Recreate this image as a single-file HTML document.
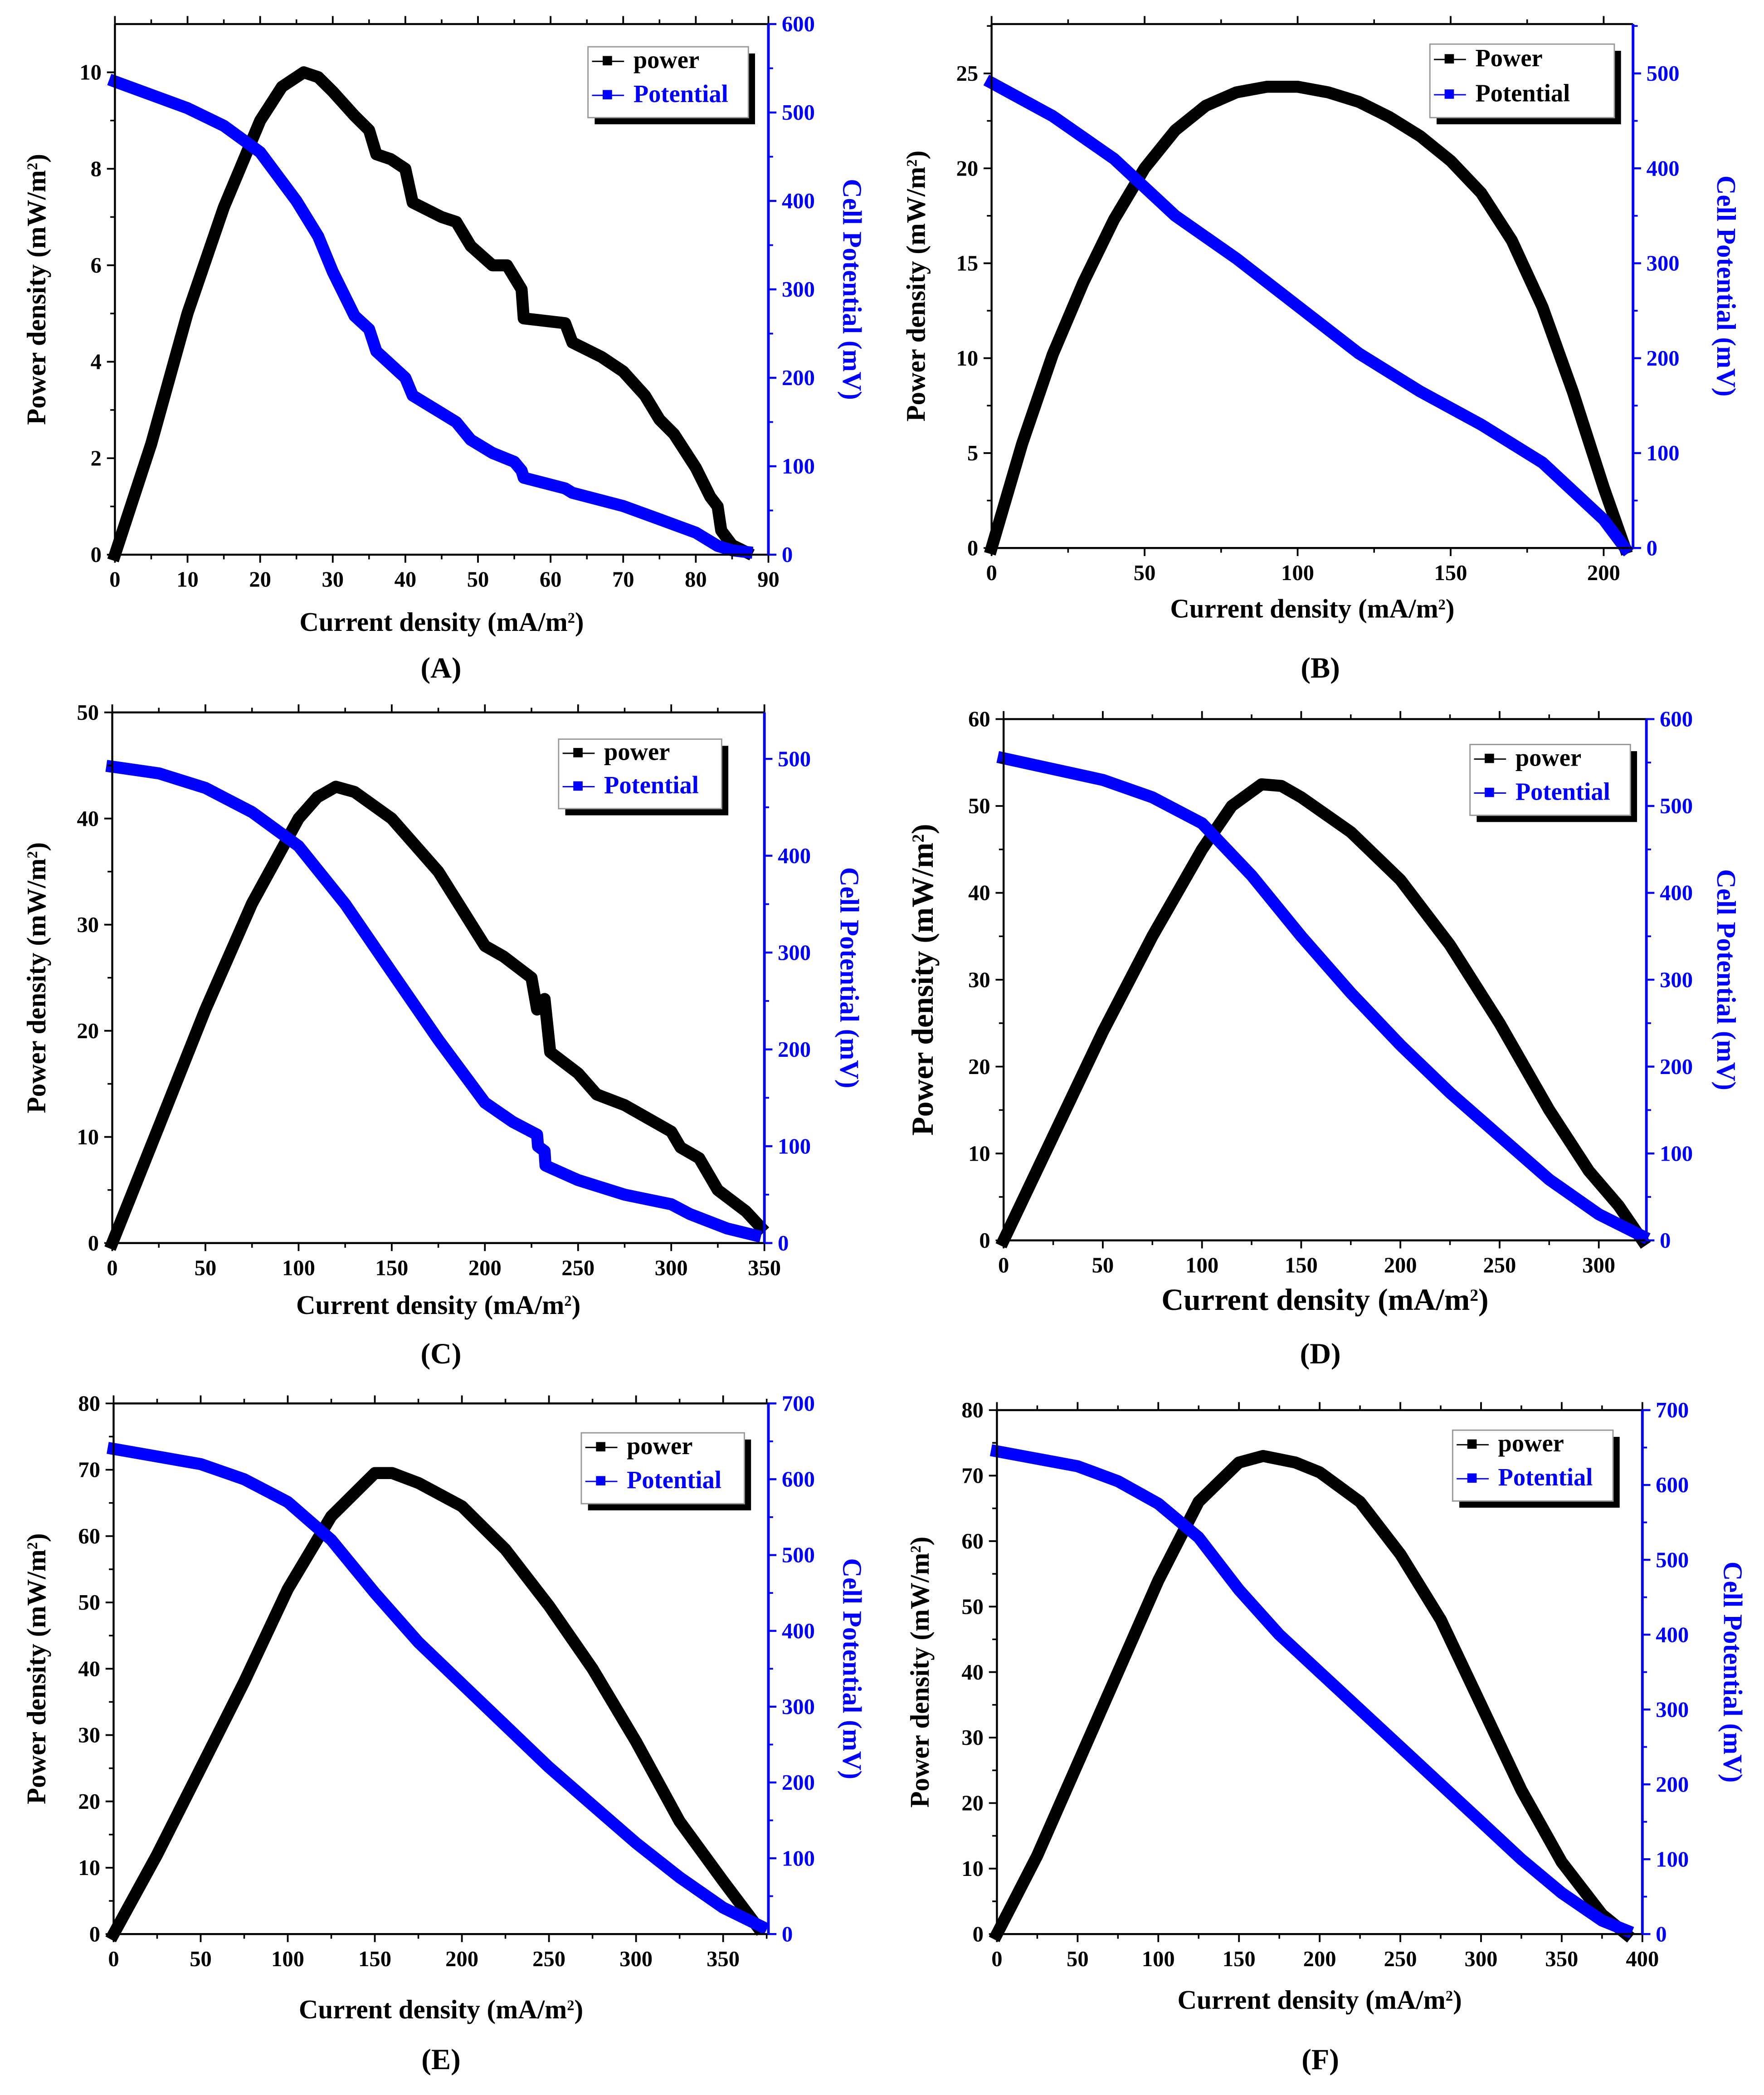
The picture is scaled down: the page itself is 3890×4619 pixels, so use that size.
<!DOCTYPE html>
<html><head><meta charset="utf-8"><style>
html,body{margin:0;padding:0;background:#fff;}
svg{display:block;}
text{font-family:"Liberation Serif",serif;font-weight:bold;}
</style></head><body>
<svg id="fig" width="3890" height="4619" viewBox="0 0 1320 1567.4" preserveAspectRatio="none" xmlns="http://www.w3.org/2000/svg"></svg>
<script>
// ---- data (current density mA/m2, power mW/m2, potential mV) ----
const aX = [0,5,10,15,20,23,26,28,30,33,35,36,38,40,41,45,47,49,52,54,56,56.3,62,63,67,70,73,75,77,80,82,83,83.5,85,87];
const aPow = [0,2.3,5,7.2,9,9.7,10,9.9,9.6,9.1,8.8,8.3,8.2,8,7.3,7.0,6.9,6.4,6.0,6.0,5.5,4.9,4.8,4.4,4.1,3.8,3.3,2.8,2.5,1.8,1.2,1.0,0.5,0.2,0.05];
const aVX = [0,10,15,20,25,28,30,33,35,36,40,41,45,47,49,52,55,56,56.3,62,63,70,75,80,83,85,87];
const aPot = [535,505,485,455,400,360,320,270,255,230,200,180,160,150,130,115,105,95,87,75,70,55,40,25,10,5,3];

const bX = [0,10,20,30,40,50,60,70,80,90,100,110,120,130,140,150,160,170,180,190,200,207];
const bPow = [0,5.5,10.2,14,17.3,20,22,23.3,24,24.3,24.3,24,23.5,22.7,21.7,20.4,18.7,16.2,12.7,8.2,3.2,0];
const bVX = [0,20,40,50,60,80,100,120,140,160,180,200,207];
const bPot = [490,455,410,380,350,305,255,205,165,130,90,30,0];

const cX = [0,25,50,75,100,110,120,130,150,175,200,210,225,228,232,235,250,260,275,300,305,315,325,340,348];
const cPow = [0,11,22,32,40,42,43,42.5,40,35,28,27,25,22,23,18,16,14,13,10.5,9,8,5,3,1.5];
const cVX = [0,25,50,75,100,125,150,175,200,215,228,228.5,232,232.5,250,275,300,310,330,345];
const cPot = [492,485,470,445,410,350,280,210,145,125,112,100,95,80,65,50,40,30,15,8];

const dX = [0,25,50,75,100,115,130,140,150,175,200,225,250,275,295,310,322];
const dPow = [0,12,24,35,45,50,52.5,52.3,51,47,41.5,34,25,15,8,4,0];
const dVX = [0,50,75,100,125,150,175,200,225,250,275,300,322];
const dPot = [555,530,510,480,420,350,285,225,170,120,70,30,5];

const eX = [0,25,50,75,100,125,150,160,175,200,225,250,275,300,325,350,370];
const ePow = [0,12,25,38,52,63,69.5,69.5,68,64.5,58,49.5,40,29,17,8,1];
const eVX = [0,50,75,100,125,150,175,200,225,250,275,300,325,350,372];
const ePot = [640,620,600,570,520,450,385,330,275,220,170,120,75,35,10];

const fX = [0,25,50,75,100,125,150,165,185,200,225,250,275,300,325,350,375,390];
const fPow = [0,12,26,40,54,66,72,73,72,70.5,66,58,48,35,22,11,3,0];
const fVX = [0,50,75,100,125,150,175,200,225,250,275,300,325,350,375,390];
const fPot = [645,625,605,575,530,460,400,350,300,250,200,150,100,55,18,5];

const aXTicks=[0,10,20,30,40,50,60,70,80,90], aLTicks=[0,2,4,6,8,10], aRTicks=[0,100,200,300,400,500,600];
const bXTicks=[0,50,100,150,200], bLTicks=[0,5,10,15,20,25], bRTicks=[0,100,200,300,400,500];
const cXTicks=[0,50,100,150,200,250,300,350], cLTicks=[0,10,20,30,40,50], cRTicks=[0,100,200,300,400,500];
const dXTicks=[0,50,100,150,200,250,300], dLTicks=[0,10,20,30,40,50,60], dRTicks=[0,100,200,300,400,500,600];
const eXTicks=[0,50,100,150,200,250,300,350], eLTicks=[0,10,20,30,40,50,60,70,80], eRTicks=[0,100,200,300,400,500,600,700];
const fXTicks=[0,50,100,150,200,250,300,350,400], fLTicks=[0,10,20,30,40,50,60,70,80], fRTicks=[0,100,200,300,400,500,600,700];

const NS="http://www.w3.org/2000/svg";
const svg=document.getElementById('fig');
function mk(tag,attrs,parent){const e=document.createElementNS(NS,tag);for(const k in attrs)e.setAttribute(k,attrs[k]);(parent||svg).appendChild(e);return e;}

const panels=[
 {id:'a',label:'(A)',x0:86,x1:575,y0:18,y1:415,xmax:90,lmax:11,rmax:600,xs:aX,pw:aPow,vx:aVX,pt:aPot,xt:aXTicks,lt:aLTicks,rt:aRTicks,leg:[440,35,120,53],p1:'power',p2:'Potential',xtY:472,lbX:330,lbY:507,ltX:27,rtX:638,fs:16.5,tf:20},
 {id:'b',label:'(B)',x0:742,x1:1222,y0:18,y1:410,xmax:209.6,lmax:27.6,rmax:552,xs:bX,pw:bPow,vx:bVX,pt:bPot,xt:bXTicks,lt:bLTicks,rt:bRTicks,leg:[1070,33,138,55],p1:'Power',p2:'Potential',xtY:462,lbX:988,lbY:507,ltX:685,rtX:1292,fs:16.5,tf:20,blackLeg:true},
 {id:'c',label:'(C)',x0:84,x1:572,y0:533,y1:930,xmax:350,lmax:50,rmax:548,xs:cX,pw:cPow,vx:cVX,pt:cPot,xt:cXTicks,lt:cLTicks,rt:cRTicks,leg:[418,553,122,52],p1:'power',p2:'Potential',xtY:983,lbX:330,lbY:1020,ltX:27,rtX:636,fs:16.5,tf:20},
 {id:'d',label:'(D)',x0:751,x1:1232,y0:538,y1:928,xmax:324,lmax:60,rmax:600,xs:dX,pw:dPow,vx:dVX,pt:dPot,xt:dXTicks,lt:dLTicks,rt:dRTicks,leg:[1100,557,120,53],p1:'power',p2:'Potential',xtY:980,lbX:988,lbY:1020,ltX:690,rtX:1292,fs:16.5,tf:23},
 {id:'e',label:'(E)',x0:85,x1:575,y0:1050,y1:1447,xmax:376,lmax:80,rmax:700,xs:eX,pw:ePow,vx:eVX,pt:ePot,xt:eXTicks,lt:eLTicks,rt:eRTicks,leg:[435,1072,122,53],p1:'power',p2:'Potential',xtY:1510,lbX:330,lbY:1548,ltX:27,rtX:638,fs:16.5,tf:20},
 {id:'f',label:'(F)',x0:746,x1:1229,y0:1055,y1:1447,xmax:400,lmax:80,rmax:700,xs:fX,pw:fPow,vx:fVX,pt:fPot,xt:fXTicks,lt:fLTicks,rt:fRTicks,leg:[1087,1070,120,53],p1:'power',p2:'Potential',xtY:1503,lbX:988,lbY:1548,ltX:688,rtX:1297,fs:16.5,tf:20},
];

panels.forEach(P=>{
 const g=mk('g',{});
 
 
 const sx=v=>P.x0+(v/P.xmax)*(P.x1-P.x0);
 const sl=v=>P.y1-(v/P.lmax)*(P.y1-P.y0);
 const sr=v=>P.y1-(v/P.rmax)*(P.y1-P.y0);
 const pp=P.xs.map((x,i)=>sx(x).toFixed(1)+','+sl(P.pw[i]).toFixed(1)).join(' ');
 const pl=mk('polyline',{points:pp,fill:'none',stroke:'#000','stroke-width':9,'stroke-linejoin':'round','stroke-linecap':'square'},g);
 
 
 const vp=P.vx.map((x,i)=>sx(x).toFixed(1)+','+sr(P.pt[i]).toFixed(1)).join(' ');
 const vl=mk('polyline',{points:vp,fill:'none',stroke:'#0000ff','stroke-width':9,'stroke-linejoin':'round','stroke-linecap':'square'},g);
 
 
 mk('line',{x1:P.x0,y1:P.y0,x2:P.x1,y2:P.y0,stroke:'#000','stroke-width':1.5},g);
 mk('line',{x1:P.x0,y1:P.y1,x2:P.x1,y2:P.y1,stroke:'#000','stroke-width':1.5},g);
 mk('line',{x1:P.x0,y1:P.y0,x2:P.x0,y2:P.y1,stroke:'#000','stroke-width':1.5},g);
 mk('line',{x1:P.x1,y1:P.y0,x2:P.x1,y2:P.y1,stroke:'#0000ff','stroke-width':2},g);
 const xs=P.xt[1]-P.xt[0];
 P.xt.forEach((t,i)=>{
  const x=sx(t);
  mk('line',{x1:x,y1:P.y1,x2:x,y2:P.y1+6,stroke:'#000','stroke-width':1.3},g);
  mk('line',{x1:x,y1:P.y0,x2:x,y2:P.y0-6,stroke:'#000','stroke-width':1.3},g);
  const m=sx(t+xs/2); if(m<P.x1){mk('line',{x1:m,y1:P.y1,x2:m,y2:P.y1+3.5,stroke:'#000','stroke-width':1.2},g);mk('line',{x1:m,y1:P.y0,x2:m,y2:P.y0-3.5,stroke:'#000','stroke-width':1.2},g);}
  const tx=mk('text',{x:x,y:P.y1+24,'font-size':P.fs,'text-anchor':'middle',fill:'#000'},g);tx.textContent=t;
  
  
 });
 const ls=P.lt[1]-P.lt[0];
 P.lt.forEach(t=>{
  const y=sl(t);
  mk('line',{x1:P.x0,y1:y,x2:P.x0-6,y2:y,stroke:'#000','stroke-width':1.3},g);
  const m=sl(t+ls/2); if(m>P.y0) mk('line',{x1:P.x0,y1:m,x2:P.x0-3.5,y2:m,stroke:'#000','stroke-width':1.2},g);
  const tx=mk('text',{x:P.x0-10,y:y+5.5,'font-size':P.fs,'text-anchor':'end',fill:'#000'},g);tx.textContent=t;
  
  
 });
 const rs=P.rt[1]-P.rt[0];
 P.rt.forEach(t=>{
  const y=sr(t);
  mk('line',{x1:P.x1,y1:y,x2:P.x1+6,y2:y,stroke:'#0000ff','stroke-width':1.5},g);
  const m=sr(t+rs/2); if(m>P.y0) mk('line',{x1:P.x1,y1:m,x2:P.x1+3.5,y2:m,stroke:'#0000ff','stroke-width':1.3},g);
  const tx=mk('text',{x:P.x1+10,y:y+5.5,'font-size':P.fs,'text-anchor':'start',fill:'#0000ff'},g);tx.textContent=t;
  
  
 });
 const xtl=mk('text',{x:(P.x0+P.x1)/2,y:P.xtY,'font-size':P.tf,'text-anchor':'middle',fill:'#000'},g);
 xtl.innerHTML='Current density (mA/m<tspan baseline-shift="super" font-size="'+(P.tf*0.55)+'">2</tspan>)';
 
 
 const cy=(P.y0+P.y1)/2;
 const ytl=mk('text',{x:P.ltX,y:cy,'font-size':P.tf,'text-anchor':'middle',fill:'#000',transform:'rotate(-90 '+P.ltX+' '+cy+')',dy:'0.35em'},g);
 ytl.innerHTML='Power density (mW/m<tspan baseline-shift="super" font-size="'+(P.tf*0.55)+'">2</tspan>)';
 
 
 const rtl=mk('text',{x:P.rtX,y:cy,'font-size':20,'text-anchor':'middle',fill:'#0000ff',transform:'rotate(90 '+P.rtX+' '+cy+')',dy:'0.35em'},g);
 rtl.textContent='Cell Potential (mV)';
 
 
 const lb=mk('text',{x:P.lbX,y:P.lbY,'font-size':22,'text-anchor':'middle',fill:'#000'},g);
 lb.textContent=P.label;
 
 
 const [lx,ly,lw,lh]=P.leg;
 const lg=mk('g',{},g);
 
 
 mk('rect',{x:lx+5,y:ly+5,width:lw,height:lh,fill:'#000'},lg);
 mk('rect',{x:lx,y:ly,width:lw,height:lh,fill:'#fff',stroke:'#999','stroke-width':1},lg);
 [[P.p1,'#000',ly+lh*0.3],[P.p2,P.blackLeg?'#000':'#0000ff',ly+lh*0.78]].forEach((e,i)=>{
  const col=i==0?'#000':'#0000ff';
  mk('line',{x1:lx+3,y1:e[2]-5,x2:lx+27,y2:e[2]-5,stroke:col,'stroke-width':1},lg);
  mk('rect',{x:lx+11,y:e[2]-9,width:7,height:7,fill:col},lg);
  const t=mk('text',{x:lx+34,y:e[2],'font-size':18.5,fill:e[1]},lg);t.textContent=e[0];
  
  
 });
});
</script>
</body></html>
